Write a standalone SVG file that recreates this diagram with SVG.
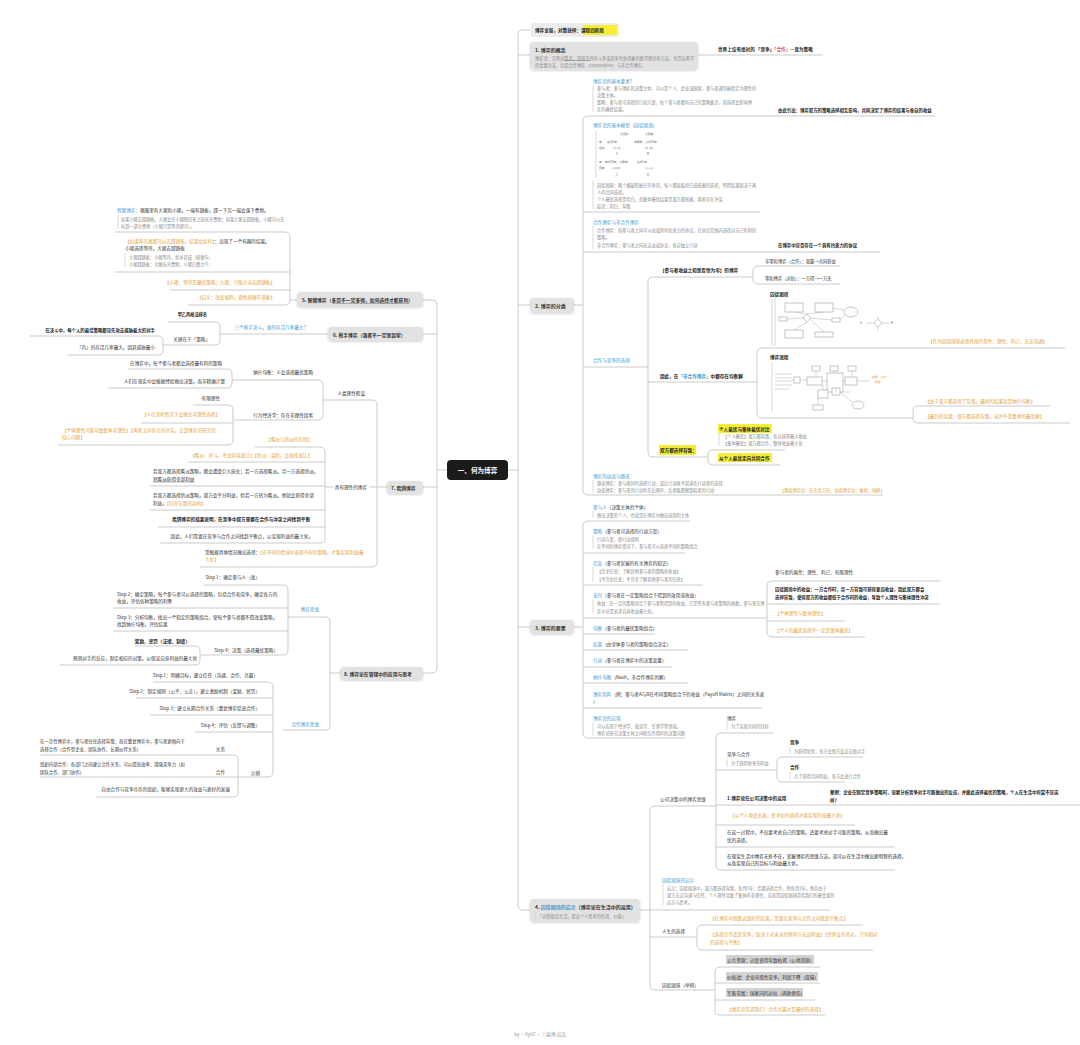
<svg xmlns="http://www.w3.org/2000/svg" width="1080" height="1045" viewBox="0 0 1080 1045">
<defs>
<style>
text{font-family:"Noto Sans CJK SC","Noto Sans",sans-serif;font-size:4.6px;fill:#333;dominant-baseline:central}
.s{font-size:4.2px;fill:#8a8a8a}
.b{font-weight:bold;fill:#222}
.bl{fill:#3d9ad1}
.o{fill:#e5a23a}
.r{fill:#d9534f}
.m{font-size:5px;font-weight:bold;fill:#333}
.t3{font-size:2.8px;fill:#666}
.l{fill:none;stroke:#cbcbcb;stroke-width:1}
.bar{stroke:#cfcfcf;stroke-width:0.8}
.u{stroke:#555;stroke-width:0.4}
.mn{fill:#e2e2e2}
.yh{fill:#f6ee36}
.gh{fill:#d2d2d2}
.img{fill:#fff;stroke:#8f8f8f;stroke-width:0.5}
.il{fill:none;stroke:#9a9a9a;stroke-width:0.4}
</style>
<filter id="sh" x="-10%" y="-30%" width="120%" height="160%"><feDropShadow dx="0" dy="0.8" stdDeviation="0.8" flood-color="#000" flood-opacity="0.18"/></filter>
</defs>
<rect width="1080" height="1045" fill="#fff"/>

<g id="connectors">
<path class="l" d="M508 470H518M530 30H523Q518 30 518 35V905Q518 910 523 910H530M518 55H530M518 305H530M518 627H530"/>
<path class="l" d="M698 55H823"/>
<path class="l" d="M574 305H583M588 116Q583 116 583 121V490Q583 495 588 495M588 116H935M583 212H760M583 252H880M583 367H648M588 495H883"/>
<path class="l" d="M653 277Q648 277 648 282V452Q648 457 653 457M653 277H753M648 382H757M653 457H708"/>
<path class="l" d="M758 266Q753 266 753 271V279Q753 284 758 284M758 266H840M758 284H840"/>
<path class="l" d="M762 348Q757 348 757 353V413Q757 418 762 418M762 348H1065M762 418H913M918 406Q913 406 913 411V418Q913 423 918 423M918 406H1050M918 423H1070"/>
<path class="l" d="M713 450Q708 450 708 455V460Q708 465 713 465M713 450H785M713 465H780"/>
<path class="l" d="M574 627H583M588 521Q583 521 583 526V733Q583 738 588 738M588 521H690M583 553H685M583 585H703M583 618H767M583 634H655M583 650H688M583 667H672M583 683H688M583 708H762M588 738H685"/>
<path class="l" d="M772 581Q767 581 767 586V632Q767 637 772 637M772 581H940M767 604H940M767 621H845M772 637H865"/>
<path class="l" d="M640 910H650M655 806Q650 806 650 811V985Q650 990 655 990M655 806H716M650 910H830M650 937H697M655 990H715"/>
<path class="l" d="M721 733Q716 733 716 738V865Q716 870 721 870M721 733H773M716 770H777M716 805H1080M716 825H855M716 847H895M721 870H895"/>
<path class="l" d="M782 757Q777 757 777 762V777Q777 782 782 782M782 757H863M782 782H845"/>
<path class="l" d="M702 925Q697 925 697 930V945Q697 950 702 950M702 925H863M702 950H873"/>
<path class="l" d="M720 967Q715 967 715 972V1010Q715 1015 720 1015M720 967H820M715 983H820M715 1000H815M720 1015H825"/>
<path class="l" d="M447 470H437M423 300H432Q437 300 437 305V668Q437 673 432 673H423M437 334H423M437 487H423"/>
<path class="l" d="M297 300H290M285 232Q290 232 290 237V300Q290 305 285 305M285 232H115M290 272H115M290 290H170M285 305H188"/>
<path class="l" d="M328 334H220M215 322Q220 322 220 327V340Q220 345 215 345M215 322H168M215 345H163M158 336Q163 336 163 341V350Q163 355 158 355M158 336H30M158 355H68"/>
<path class="l" d="M387 487H377M372 400Q377 400 377 405V562Q377 567 372 567M372 400H323M377 487H369M334 487H325M372 567H200"/>
<path class="l" d="M318 380Q323 380 323 385V415Q323 420 318 420M318 380H232M318 420H233"/>
<path class="l" d="M227 369Q232 369 232 374V383Q232 388 227 388M227 369H128M227 388H108"/>
<path class="l" d="M228 405Q233 405 233 410V440Q233 445 228 445M228 405H193M233 423H141M228 445H58"/>
<path class="l" d="M320 447Q325 447 325 452V538Q325 543 320 543M320 447H255M325 462H188M325 486H150M325 510H150M325 527H158M320 543H160"/>
<path class="l" d="M340 673H330M325 617Q330 617 330 622V725Q330 730 325 730M325 617H287M325 730H283"/>
<path class="l" d="M283 585Q288 585 288 590V650Q288 655 283 655M283 585H204M288 608H113M288 631H113M283 655H200"/>
<path class="l" d="M195 646Q200 646 200 651V660Q200 665 195 665M195 646H135M195 665H60"/>
<path class="l" d="M268 682Q273 682 273 687V772Q273 777 268 777M268 682H153M273 698H136M273 715H150M273 732H195M268 777H238"/>
<path class="l" d="M233 755Q238 755 238 760V792Q238 797 233 797M233 755H40M238 777H40M233 797H96"/>
</g>

<g id="center">
<rect x="447" y="460" width="61" height="20" rx="4" fill="#1b1b1b"/>
<text x="477.5" y="470" text-anchor="middle" style="font-size:6.6px;font-weight:bold;fill:#fff">一、何为博弈</text>
</g>

<g id="top-title">
<rect x="531" y="23" width="88" height="14" rx="3" fill="#ececec"/>
<rect x="583" y="25" width="34" height="10" fill="#f6ee36"/>
<text x="535" y="30" class="b">博弈全局，对策抉择：<tspan>课程四阶段</tspan></text>
</g>

<g id="n1">
<rect x="530" y="42" width="168" height="28" rx="4" class="mn" filter="url(#sh)"/>
<text x="535" y="49" class="m">1. 博弈的概念</text>
<text x="535" y="57.5" class="s">博弈论：又称对策论，是研究具有斗争或竞争性质现象的数学理论和方法，也是运筹学</text>
<text x="535" y="64.5" class="s">的重要分支，包括合作博弈（cooperative）与非合作博弈。</text>
<line class="u" x1="564" y1="60.5" x2="590" y2="60.5"/>
<text x="718" y="49" class="b">世界上没有绝对的 「竞争」<tspan class="r">「合作」</tspan>—皆为策略</text>
</g>

<g id="n2">
<rect x="530" y="298" width="44" height="15" rx="4" class="mn" filter="url(#sh)"/>
<text x="535" y="305.5" class="m">2. 博弈的分类</text>
</g>

<g id="n2-c1">
<text x="593" y="81" class="bl">博弈论的基本要素？</text>
<line class="bar" x1="593" y1="85" x2="593" y2="112"/>
<text x="597" y="88" class="s">参与者：参与博弈的决策主体，可以是个人、企业或国家，参与者通常被假定为理性的</text>
<text x="597" y="95" class="s">决策主体。</text>
<text x="597" y="102" class="s">策略：参与者可选择的行动方案，每个参与者都有自己的策略集合，其选择会影响博</text>
<text x="597" y="109" class="s">弈的最终结果。</text>
<text x="778" y="110" class="b" style="font-size:4.4px">由此引出：博弈双方的策略选择相互影响，共同决定了博弈的结果与各自的收益</text>
</g>

<g id="n2-c2">
<text x="593" y="125" class="bl">博弈论的基本模型（囚徒困境）</text>
<line class="bar" x1="596" y1="130" x2="596" y2="178"/>
<text x="620" y="134" class="t3">乙坦白</text><text x="645" y="134" class="t3">乙抵赖</text>
<text x="599" y="142" class="t3">甲</text><text x="607" y="142" class="t3">各判8年</text><text x="634" y="142" class="t3">甲释放，乙判10年</text>
<text x="599" y="148" class="t3">坦白</text><text x="613" y="148" class="t3">(-8,-8)</text><text x="645" y="148" class="t3">(0,-10)</text>
<text x="616" y="154" class="t3">A</text><text x="647" y="154" class="t3">B</text>
<text x="599" y="162" class="t3">甲</text><text x="605" y="162" class="t3">甲判10年，乙释放</text><text x="637" y="162" class="t3">各判1年</text>
<text x="599" y="168" class="t3">抵赖</text><text x="612" y="168" class="t3">(-10,0)</text><text x="645" y="168" class="t3">(-1,-1)</text>
<text x="616" y="175" class="t3">C</text><text x="647" y="175" class="t3">D</text>
<line class="bar" x1="593" y1="181" x2="593" y2="209"/>
<text x="597" y="185" class="s">囚徒困境：两个嫌疑犯被分开审讯，每人都面临坦白或抵赖的选择，所得结果取决于两</text>
<text x="597" y="192" class="s">人的共同选择。</text>
<text x="597" y="199" class="s">个人最优选择是坦白，而集体最优结果是双方都抵赖，两者存在冲突</text>
<text x="597" y="206" class="s">结论：坦白、背叛</text>
</g>

<g id="n2-c3">
<text x="593" y="222" class="bl">合作博弈与非合作博弈</text>
<line class="bar" x1="593" y1="226" x2="593" y2="249"/>
<text x="597" y="230" class="s">合作博弈：指参与者之间可以达成具有约束力的协议，在协议范围内选择对自己有利的</text>
<text x="597" y="237" class="s">策略。</text>
<text x="597" y="245" class="s">非合作博弈：参与者之间无法达成协议，各自独立行动</text>
<text x="778" y="245" class="b" style="font-size:4.4px">在博弈中是否存在一个具有约束力的协议</text>
</g>

<g id="n2-c4">
<text x="593" y="360" class="bl">合作与竞争的选择</text>
<text x="660" y="270" class="b">【参与者收益之和是否恒为零】的博弈</text>
<text x="765" y="261" style="font-size:4.3px">非零和博弈（合作）：双赢→共同获益</text>
<text x="765" y="278" style="font-size:4.3px">零和博弈（对抗）：一方得→一方失</text>
<text x="660" y="376" class="b">因此，在<tspan class="bl">「非合作博弈」</tspan>中都存在均衡解</text>
</g>

<g id="n2-c4-panel1">
<text x="770" y="294" class="b">囚徒困境</text>
<line class="bar" x1="772" y1="298" x2="772" y2="346"/>
<line class="bar" x1="775" y1="298" x2="775" y2="346"/>
<rect class="img" x="785" y="303" width="18" height="9"/>
<rect class="img" x="815" y="303" width="18" height="9"/>
<ellipse class="img" cx="851" cy="312" rx="7" ry="5"/>
<rect class="img" x="779" y="317" width="8" height="4"/>
<path class="img" d="M807 314L811 318L807 322L803 318Z"/>
<rect class="img" x="832" y="318" width="8" height="4"/>
<rect class="img" x="785" y="330" width="18" height="8"/>
<rect class="img" x="815" y="332" width="18" height="5"/>
<path class="img" d="M878 319L882 323L878 327L874 323Z"/>
<path class="il" d="M794 312L807 314M824 312L807 314M787 319L803 318M811 318L832 320M807 322L794 330M811 320L824 332M840 320L846 314M833 308L844 310M866 323L874 323M882 323L890 323M878 316L878 319M878 327L878 331"/>
<text x="860" y="323" class="t3">A</text><text x="891" y="323" class="t3">B</text>
<text x="928" y="341" class="o">【作为囚徒困境必须具备的条件：理性、利己、无法沟通】</text>
</g>

<g id="n2-c4-panel2">
<text x="770" y="357" class="b">博弈流程</text>
<line class="bar" x1="772" y1="362" x2="772" y2="412"/>
<rect class="img" x="812" y="366" width="8" height="5"/>
<rect class="img" x="830" y="366" width="8" height="5"/>
<rect class="img" x="848" y="366" width="8" height="5"/>
<path class="il" d="M775 374H792M775 378H792M775 381H792M775 385H792M775 389H790"/>
<rect class="img" x="794" y="377" width="6" height="6"/>
<rect class="img" x="807" y="377" width="15" height="8"/>
<rect class="img" x="827" y="373" width="16" height="19"/>
<rect class="img" x="845" y="377" width="12" height="8"/>
<rect class="img" x="818" y="390" width="10" height="8"/>
<rect class="img" x="832" y="388" width="8" height="7"/>
<rect class="img" x="813" y="405" width="10" height="5"/>
<ellipse class="img" cx="858" cy="405" rx="6" ry="4"/>
<path class="il" d="M792 380H794M800 380H807M822 381H827M843 381H845M857 381H870M816 371V377M834 371V373M852 371V377M823 385V390M836 392V388M840 392L852 402M818 398V405M843 392H850"/>
<text x="872" y="377" class="t3 o" style="fill:#e5a23a">结果：合作</text>
<text x="872" y="382" class="t3 o" style="fill:#e5a23a">（收益）</text>
<text x="925" y="401" class="o">【由于双方都选择了背叛，最终的结果就是纳什均衡】</text>
<text x="925" y="416" class="o">【最后的结果：双方都选择背叛，这并不是集体的最优解】</text>
</g>

<g id="n2-c4-c">
<rect x="659" y="445" width="37" height="10" class="yh"/>
<text x="660" y="450" class="b">双方都选择背叛：</text>
<rect x="718" y="424" width="54" height="9" class="yh"/>
<text x="719" y="428.5" class="b">个人最优与集体最优对比</text>
<line class="bar" x1="719" y1="433" x2="719" y2="446"/>
<text x="723" y="436" class="s">【个人最优】双方都背叛，各自获得最大收益</text>
<text x="723" y="443" class="s">【集体最优】双方都合作，整体收益最大化</text>
<rect x="718" y="453" width="54" height="9" class="yh"/>
<text x="719" y="457.5" class="b">从个人最优走向共同合作</text>
</g>

<g id="n2-c5">
<text x="593" y="476" class="bl">博弈的动态与静态</text>
<line class="bar" x1="593" y1="480" x2="593" y2="493"/>
<text x="597" y="483" class="s">静态博弈：参与者同时选择行动，或后行动者不知道先行动者的选择</text>
<text x="597" y="490" class="s">动态博弈：参与者的行动有先后顺序，后者能观察到前者的行动</text>
<text x="780" y="490" class="o" style="font-size:4.2px">【静态博弈如：石头剪刀布，动态博弈如：象棋、围棋】</text>
</g>

<g id="n3">
<rect x="530" y="620" width="44" height="14" rx="4" class="mn" filter="url(#sh)"/>
<text x="535" y="627" class="m">3. 博弈的要素</text>
</g>

<g id="n3-children">
<text x="593" y="507"><tspan class="bl">参与人</tspan>（决策主体的个体）</text>
<line class="bar" x1="593" y1="511" x2="593" y2="518"/>
<text x="597" y="515" class="s">做出决策的个人，也就是在博弈中做出选择的主体</text>
<text x="593" y="531"><tspan class="bl">策略</tspan>（参与者可选择的行动方案）</text>
<line class="bar" x1="593" y1="535" x2="593" y2="549"/>
<text x="597" y="539" class="s">行动方案，即行动规则</text>
<text x="597" y="546" class="s">在不同的博弈情况下，参与者可以选择不同的策略组合</text>
<text x="593" y="563"><tspan class="bl">信息</tspan>（参与者掌握的有关博弈的知识）</text>
<line class="bar" x1="593" y1="567" x2="593" y2="582"/>
<text x="597" y="571" class="s">【完全信息：了解其他参与者的策略和收益】</text>
<text x="597" y="579" class="s">【不完全信息：不完全了解其他参与者的信息】</text>
<text x="593" y="595"><tspan class="bl">支付</tspan>（参与者在一定策略组合下得到的效用或收益）</text>
<line class="bar" x1="593" y1="599" x2="593" y2="614"/>
<text x="597" y="603" class="s">收益：在一定的策略组合下参与者所得到的收益，它是所有参与者策略的函数，参与者在博</text>
<text x="597" y="611" class="s">弈中总是追求自身收益最大化。</text>
<text x="593" y="628"><tspan class="bl">均衡</tspan>（参与者的最优策略组合）</text>
<text x="593" y="644"><tspan class="bl">结果</tspan>（由全体参与者的策略组合决定）</text>
<text x="593" y="660"><tspan class="bl">行动</tspan>（参与者在博弈中的决策变量）</text>
<text x="593" y="677"><tspan class="bl">纳什均衡</tspan>（Nash，非合作博弈的解）</text>
<text x="593" y="694"><tspan class="bl">博弈矩阵</tspan>（例：参与者A与B在不同策略组合下的收益（Payoff Matrix）之间的关系表</text>
<text x="593" y="701">）</text>
<text x="593" y="718" class="bl">博弈论的应用</text>
<line class="bar" x1="593" y1="722" x2="593" y2="736"/>
<text x="597" y="726" class="s">可以应用于经济学、政治学、军事学等领域，</text>
<text x="597" y="733" class="s">博弈论研究决策主体之间相互作用时的决策问题</text>
</g>

<g id="n3-pay">
<text x="775" y="572">参与者的属性：理性、利己、有限理性</text>
<text x="775" y="589" class="b" style="font-size:4.4px">囚徒困境中的收益：一方合作时，另一方背叛可获得更高收益，因此双方都会</text>
<text x="775" y="597" class="b" style="font-size:4.4px">选择背叛，使得双方的收益都低于合作时的收益，导致个人理性与集体理性冲突</text>
<text x="775" y="613" class="o">【个体理性与集体理性】</text>
<text x="775" y="630" class="o">【个人的最优选择不一定是集体最优】</text>
</g>

<g id="n4">
<rect x="530" y="899" width="110" height="23" rx="4" class="mn" filter="url(#sh)"/>
<text x="535" y="906" class="m">4. <tspan class="bl">囚徒困境的启示</tspan>（博弈论在生活中的运用）</text>
<line class="bar" x1="535" y1="912" x2="535" y2="919"/>
<text x="538" y="915.5" class="s">「对照现实生活，提出个人思考的作用、价值」</text>
</g>

<g id="n4-a">
<text x="660" y="799">公司决策中的博弈思维</text>
<text x="727" y="718">博弈</text>
<line class="bar" x1="727" y1="722" x2="727" y2="730"/>
<text x="731" y="726" class="s">为了实现共同的目标</text>
<text x="727" y="754">竞争与合作</text>
<line class="bar" x1="727" y1="759" x2="727" y2="767"/>
<text x="731" y="763" class="s">为了获得更多的利益</text>
<text x="790" y="742" class="b">竞争</text>
<line class="bar" x1="790" y1="747" x2="790" y2="754"/>
<text x="794" y="751" class="s">为获得优势，各方会想方设法击败对手</text>
<text x="790" y="767" class="b">合作</text>
<line class="bar" x1="790" y1="772" x2="790" y2="779"/>
<text x="794" y="776" class="s">为了获得共同利益，各方会进行合作</text>
<text x="727" y="798" class="b">1.博弈论在公司决策中的运用</text>
<text x="830" y="792" class="b" style="font-size:4.4px">案例：企业在制定竞争策略时，需要分析竞争对手可能做出的反应，并据此选择最优的策略，个人在生活中何尝不是这</text>
<text x="830" y="800" class="b" style="font-size:4.4px">样？</text>
<text x="730" y="815" class="o">【从个人角度出发，思考如何选择才能实现利益最大化】</text>
<text x="727" y="832">在这一过程中，不仅要考虑自己的策略，还要考虑对手可能的策略，从而做出最</text>
<text x="727" y="840">优的选择。</text>
<text x="727" y="856" style="fill:#222">在现实生活中博弈无处不在，掌握博弈的思维方法，就可以在生活中做出更明智的选择，</text>
<text x="727" y="863" style="fill:#222">从而实现自己的目标与利益最大化。</text>
</g>

<g id="n4-b">
<text x="662" y="880" class="bl">囚徒困境的启示</text>
<line class="bar" x1="663" y1="884" x2="663" y2="905"/>
<text x="667" y="888" class="s">启示：囚徒困境中，双方都选择背叛，各判5年；若都选择合作，则各判1年。然而由于</text>
<text x="667" y="895" class="s">双方无法沟通与信任，个人理性导致了集体的非理性，这就是囚徒困境带给我们的最重要的</text>
<text x="667" y="902" class="s">启示与思考。</text>
</g>

<g id="n4-c">
<text x="662" y="931">人生的选择</text>
<text x="710" y="918" class="o">【在博弈中想要达到好的结果，需要在竞争与合作之间找到平衡点】</text>
<text x="710" y="934" class="o">【选择合作还是竞争，取决于对未来的预判与长远利益】【世界没有绝对，只有相对</text>
<text x="710" y="942" class="o">的选择与平衡】</text>
</g>

<g id="n4-d">
<text x="662" y="985">囚徒困境（举例）</text>
<rect x="726" y="955" width="88" height="9" class="gh"/>
<text x="727" y="959.5">公共资源：过度使用导致枯竭（公地悲剧）</text>
<rect x="726" y="972" width="92" height="9" class="gh"/>
<text x="727" y="976.5">价格战：企业间恶性竞争，利润下降（双输）</text>
<rect x="726" y="988" width="77" height="9" class="gh"/>
<text x="727" y="992.5">军备竞赛：国家间的对抗（两败俱伤）</text>
<text x="727" y="1009" class="o">【博弈论告诉我们：合作共赢才是最好的选择】</text>
</g>

<g id="n5">
<rect x="297" y="292" width="126" height="15" rx="4" class="mn" filter="url(#sh)"/>
<text x="302" y="299.5" class="m" style="font-size:4.8px">5. 智猪博弈（多劳不一定多得，如何选择才能获利）</text>
<line class="u" x1="333" y1="303.5" x2="409" y2="303.5"/>
<text x="117" y="210"><tspan class="bl">智猪博弈：</tspan>猪圈里有大猪和小猪，一端有踏板，踩一下另一端会落下食物。</text>
<line class="bar" x1="118" y1="215" x2="118" y2="229"/>
<text x="121" y="219" class="s">如果小猪去踩踏板，大猪会在小猪跑回来之前吃光食物；如果大猪去踩踏板，小猪可以先</text>
<text x="121" y="226" class="s">吃到一部分食物（小猪只需等待即可）。</text>
<text x="125" y="241"><tspan class="o">【如果两头猪都可以去踩踏板，结果会如何】</tspan>：出现了一个有趣的结果。</text>
<text x="125" y="248">小猪选择等待，大猪去踩踏板</text>
<line class="bar" x1="125" y1="253" x2="125" y2="267"/>
<text x="129" y="257" class="s">大猪踩踏板：小猪等待，坐享其成（搭便车）</text>
<text x="129" y="264" class="s">小猪踩踏板：大猪吃光食物，小猪白费力气</text>
<text x="275" y="282" class="o" text-anchor="end">【小猪：等待是最优策略；大猪：只能主动去踩踏板】</text>
<text x="275" y="297" class="o" text-anchor="end">【启示：改变规则，避免搭便车现象】</text>
</g>

<g id="n6">
<rect x="328" y="327" width="95" height="14" rx="4" class="mn" filter="url(#sh)"/>
<text x="333" y="334" class="m" style="font-size:4.8px">6. 枪手博弈（强者不一定是赢家）</text>
<text x="308" y="327" class="bl" text-anchor="end">三个枪手决斗，谁的存活几率最大？</text>
<text x="207" y="314" class="b" text-anchor="end" style="font-size:4.2px">甲乙丙枪法排名</text>
<text x="210" y="339" text-anchor="end">关键在于「策略」</text>
<text x="155" y="330" class="b" text-anchor="end" style="font-size:4.4px">在决斗中，每个人的最佳策略都是先攻击威胁最大的对手</text>
<text x="155" y="347" text-anchor="end">「丙」的存活几率最大，因其威胁最小</text>
</g>

<g id="n7">
<rect x="387" y="481" width="36" height="13" rx="4" class="mn" filter="url(#sh)"/>
<text x="391" y="487.5" class="m" style="font-size:4.8px">7. 鹰鸽博弈</text>
<text x="365" y="393" text-anchor="end">人类理性假设</text>
<text x="313" y="372" text-anchor="end">纳什均衡：人会选择最优策略</text>
<text x="222" y="363" text-anchor="end">在博弈中，每个参与者都会选择最有利的策略</text>
<text x="225" y="381" text-anchor="end">人们在现实中会根据经验做出决策，而非精确计算</text>
<text x="313" y="415" text-anchor="end">行为经济学：存在非理性因素</text>
<text x="220" y="398" text-anchor="end">有限理性</text>
<text x="220" y="414" class="o" text-anchor="end">【人在某些情况下会做出非理性选择】</text>
<text x="62" y="430" class="o">【个体理性可能导致集体非理性】【两者之间存在的冲突，正是博弈论研究的</text>
<text x="62" y="437" class="o">核心问题】</text>
<text x="367" y="487" text-anchor="end">具有理性的博弈</text>
<text x="312" y="439" class="o" text-anchor="end">【鹰派与鸽派的区别】</text>
<text x="312" y="455" class="o" text-anchor="end">【鹰派：好斗，不会轻易退让】【鸽派：温和，会选择退让】</text>
<text x="153" y="471">若双方都选择鹰派策略，都会遭受巨大损失；若一方选择鹰派，另一方选择鸽派，</text>
<text x="153" y="479">则鹰派获得全部利益</text>
<line class="u" x1="153" y1="482" x2="194" y2="482"/>
<text x="153" y="495">若双方都选择鸽派策略，双方会平分利益，但若一方转为鹰派，他就会获得全部</text>
<text x="153" y="503">利益。<tspan class="o">【存在背叛的动机】</tspan></text>
<text x="310" y="519" class="b" text-anchor="end">鹰鸽博弈的结果说明，在竞争中双方需要在合作与冲突之间找到平衡</text>
<text x="313" y="536" text-anchor="end">因此，人们需要在竞争与合作之间找到平衡点，以实现利益的最大化。</text>
<text x="205" y="552">需根据具体情况做出选择：<tspan class="o">【在不同的情境中选择不同的策略，才能实现利益最</tspan></text>
<text x="205" y="559" class="o">大化】</text>
</g>

<g id="n8">
<rect x="340" y="667" width="83" height="13" rx="4" class="mn" filter="url(#sh)"/>
<text x="344" y="673.5" class="m" style="font-size:4.8px">8. 博弈论在管理中的应用与思考</text>
<text x="319" y="609" class="bl" text-anchor="end">博弈思维</text>
<text x="260" y="577" text-anchor="end">Step 1：确定参与人（谁）</text>
<text x="117" y="594">Step 2：确定策略，每个参与者可以选择的策略，包括合作和竞争，确定各方的</text>
<text x="117" y="601">收益，评估各种策略的利弊</text>
<text x="117" y="617">Step 3：分析均衡，找出一个稳定的策略组合，使每个参与者都不愿改变策略，</text>
<text x="117" y="624">找到纳什均衡，评估结果</text>
<text x="278" y="650" text-anchor="end">Step 4：决策（选择最优策略）</text>
<text x="190" y="641" class="b" text-anchor="end">奖励、惩罚（法律、制度）</text>
<text x="197" y="658" text-anchor="end">预测对手的反应，制定相应的对策，以保证自身利益的最大化</text>
<text x="319" y="724" class="bl" text-anchor="end">合作博弈思维</text>
<text x="258" y="675" text-anchor="end">Step 1：明确目标，建立信任（沟通、合作、共赢）</text>
<text x="260" y="691" text-anchor="end">Step 2：制定规则（公平、公正），建立激励机制（奖励、惩罚）</text>
<text x="260" y="708" text-anchor="end">Step 3：建立长期合作关系（重复博弈促进合作）</text>
<text x="260" y="725" text-anchor="end">Step 4：评估（反馈与调整）</text>
<text x="260" y="773" text-anchor="end">示例</text>
<text x="225" y="749" text-anchor="end">关系</text>
<text x="40" y="741" style="font-size:4.4px">在一次性博弈中，参与者往往选择背叛；而在重复博弈中，参与者更倾向于</text>
<text x="40" y="749" style="font-size:4.4px">选择合作（合作型企业、团队协作、长期伙伴关系）</text>
<text x="225" y="772" text-anchor="end">合作</text>
<text x="40" y="764" style="font-size:4.4px">组织内部合作：各部门之间建立合作关系，可以提高效率、增强竞争力（如</text>
<text x="40" y="772" style="font-size:4.4px">团队合作、部门协作）</text>
<text x="230" y="789" text-anchor="end">自由合作与竞争共存的组织，能够实现更大的效益与更好的发展</text>
</g>

<g id="footer">
<text x="540" y="1034" text-anchor="middle" style="font-size:4.6px;fill:#999">by ·XyDC· <tspan style="fill:#e5a23a">ⓘ</tspan>幕博 出品</text>
</g>
</svg>
